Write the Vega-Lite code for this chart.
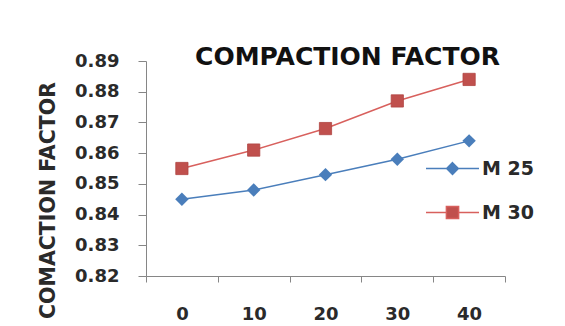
{
  "$schema": "https://vega.github.io/schema/vega-lite/v6.json",
  "width": 359,
  "height": 215,
  "autosize": {"type": "none"},
  "padding": {"left": 146, "top": 61, "right": 60, "bottom": 50},
  "background": "white",
  "config": {"view": {"stroke": null}},
  "title": {
    "text": "COMPACTION FACTOR",
    "font": "DejaVu Sans",
    "fontSize": 25,
    "fontWeight": "bold",
    "color": "#111111",
    "anchor": "middle",
    "baseline": "alphabetic",
    "offset": 0,
    "dx": 22,
    "dy": 38
  },
  "data": {
    "values": [
      {"percent": 0, "mix": "M 25", "cf": 0.845},
      {"percent": 10, "mix": "M 25", "cf": 0.848},
      {"percent": 20, "mix": "M 25", "cf": 0.853},
      {"percent": 30, "mix": "M 25", "cf": 0.858},
      {"percent": 40, "mix": "M 25", "cf": 0.864},
      {"percent": 0, "mix": "M 30", "cf": 0.855},
      {"percent": 10, "mix": "M 30", "cf": 0.861},
      {"percent": 20, "mix": "M 30", "cf": 0.868},
      {"percent": 30, "mix": "M 30", "cf": 0.877},
      {"percent": 40, "mix": "M 30", "cf": 0.884}
    ]
  },
  "encoding": {
    "x": {
      "field": "percent",
      "type": "ordinal",
      "bandPosition": 0.5,
      "scale": {"type": "band", "paddingInner": 0, "paddingOuter": 0},
      "axis": {
        "title": null,
        "labelAngle": 0,
        "tickBand": "extent",
        "labelFont": "DejaVu Sans",
        "labelFontSize": 18,
        "labelFontWeight": "bold",
        "labelColor": "#2a2a2a",
        "labelPadding": 23,
        "tickSize": 6,
        "tickColor": "#868686",
        "domainColor": "#868686",
        "grid": false
      }
    },
    "y": {
      "field": "cf",
      "type": "quantitative",
      "scale": {"domain": [0.82, 0.89], "nice": false, "zero": false},
      "axis": {
        "title": "COMACTION FACTOR",
        "titleFont": "DejaVu Sans",
        "titleFontSize": 20.5,
        "titleFontWeight": "bold",
        "titleColor": "#2a2a2a",
        "titleAngle": -90,
        "titleAlign": "center",
        "titleBaseline": "alphabetic",
        "titleX": -92,
        "titleY": 139,
        "values": [0.82, 0.83, 0.84, 0.85, 0.86, 0.87, 0.88, 0.89],
        "format": ".2f",
        "labelFont": "DejaVu Sans",
        "labelFontSize": 18,
        "labelFontWeight": "bold",
        "labelColor": "#2a2a2a",
        "labelPadding": 19,
        "tickSize": 8,
        "tickColor": "#868686",
        "domainColor": "#868686",
        "grid": false
      }
    }
  },
  "layer": [
    {
      "transform": [{"filter": "datum.mix === 'M 25'"}],
      "mark": {"type": "line", "strokeWidth": 1.5, "stroke": "#4A7EBB"},
      "encoding": {}
    },
    {
      "transform": [{"filter": "datum.mix === 'M 30'"}],
      "mark": {"type": "line", "strokeWidth": 1.5, "stroke": "#D8605D"},
      "encoding": {}
    },
    {
      "transform": [{"filter": "datum.mix === 'M 25'"}],
      "mark": {"type": "point", "shape": "diamond", "filled": true, "size": 180, "opacity": 1, "fill": "#4A7EBB", "strokeWidth": 0},
      "encoding": {}
    },
    {
      "transform": [{"filter": "datum.mix === 'M 30'"}],
      "mark": {"type": "point", "shape": "square", "filled": true, "size": 150, "opacity": 1, "fill": "#C0504D", "stroke": "#B04542", "strokeWidth": 0.8},
      "encoding": {}
    },
    {
      "mark": {"type": "point", "filled": true, "opacity": 0, "strokeWidth": 1.5},
      "encoding": {
        "fill": {
          "field": "mix",
          "type": "nominal",
          "scale": {"domain": ["M 25", "M 30"], "range": ["#4A7EBB", "#C0504D"]},
          "legend": {
            "title": null,
            "orient": "none",
            "legendX": 279,
            "legendY": 80,
            "symbolSize": 2809,
            "symbolStrokeWidth": 1.5,
            "symbolOpacity": 1,
            "labelFont": "DejaVu Sans",
            "labelFontSize": 19,
            "labelFontWeight": "bold",
            "labelColor": "#2a2a2a",
            "labelOffset": 2,
            "rowPadding": 6
          }
        },
        "stroke": {
          "field": "mix",
          "type": "nominal",
          "scale": {"domain": ["M 25", "M 30"], "range": ["#4A7EBB", "#D8605D"]},
          "legend": {
            "title": null,
            "orient": "none",
            "legendX": 279,
            "legendY": 80,
            "symbolSize": 2809,
            "symbolStrokeWidth": 1.5,
            "symbolOpacity": 1,
            "labelFont": "DejaVu Sans",
            "labelFontSize": 19,
            "labelFontWeight": "bold",
            "labelColor": "#2a2a2a",
            "labelOffset": 2,
            "rowPadding": 6
          }
        },
        "shape": {
          "field": "mix",
          "type": "nominal",
          "scale": {
            "domain": ["M 25", "M 30"],
            "range": [
              "M-1,0H-0.22M0.22,0H1M0,-0.22L0.22,0L0,0.22L-0.22,0Z",
              "M-1,0H-0.23M0.23,0H1M-0.23,-0.23H0.23V0.23H-0.23Z"
            ]
          },
          "legend": {
            "title": null,
            "orient": "none",
            "legendX": 279,
            "legendY": 80,
            "symbolSize": 2809,
            "symbolStrokeWidth": 1.5,
            "symbolOpacity": 1,
            "labelFont": "DejaVu Sans",
            "labelFontSize": 19,
            "labelFontWeight": "bold",
            "labelColor": "#2a2a2a",
            "labelOffset": 2,
            "rowPadding": 6
          }
        }
      }
    }
  ]
}
